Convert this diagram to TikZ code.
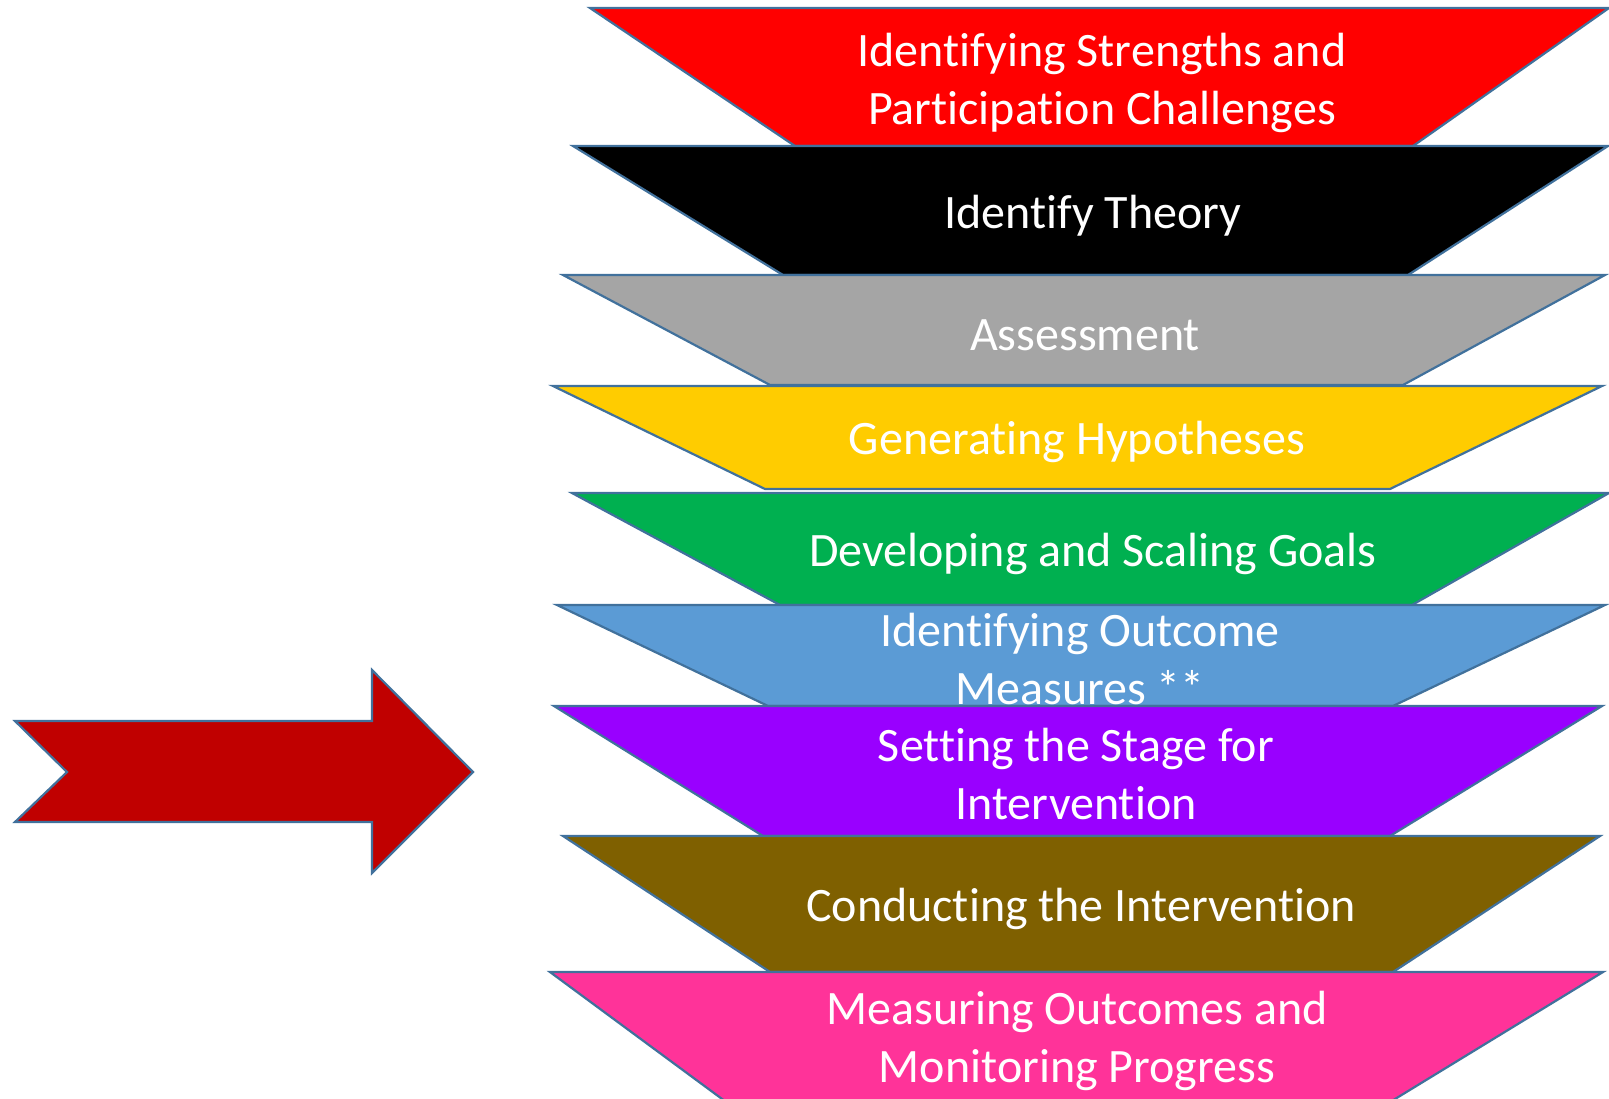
\documentclass[tikz,border=0pt]{standalone}
\usepackage{fontspec}
\setmainfont{Carlito}[RawFeature={-liga;-clig;-dlig;-calt}]
\usepackage{tikz}
\usetikzlibrary{positioning}

\definecolor{edgeblue}{HTML}{41719C}
\definecolor{stepred}{HTML}{FF0000}
\definecolor{stepgray}{HTML}{A5A5A5}
\definecolor{stepyellow}{HTML}{FFCC00}
\definecolor{stepgreen}{HTML}{00B050}
\definecolor{stepblue}{HTML}{5B9BD5}
\definecolor{steppurple}{HTML}{9900FF}
\definecolor{stepbrown}{HTML}{7F6000}
\definecolor{steppink}{HTML}{FF3399}
\definecolor{arrowred}{HTML}{C00000}

\tikzset{
  band/.style={draw=edgeblue,line width=2.2pt,line join=miter},
  label/.style={text=white,align=center,font=\fontsize{48}{58.5}\selectfont},
}

\begin{document}
\begin{tikzpicture}[x=1pt,y=-1pt]
    \useasboundingbox (0,0) rectangle (1609,1098);
    \clip (0,0) rectangle (1609,1098);
    % big arrow on the left
    \draw[band,fill=arrowred] (15,721) -- (372,721) -- (372,670) -- (473,772)
      -- (372,873) -- (372,822) -- (15,822) -- (67,772) -- cycle;
    % the funnel of steps, top to bottom
    \draw[band,fill=stepred] (590,8) -- (1609,8) -- (1413,146) -- (795,146) -- cycle;
    \node[label] (s1) at (1102,83) {Identifying Strengths and\\Participation Challenges};
    \draw[band,fill=black] (573,146) -- (1608,146) -- (1408,275) -- (783,275) -- cycle;
    \node[label] (s2) at (1093,216) {Identify Theory};
    \draw[band,fill=stepgray] (563,275) -- (1605,275) -- (1403,385) -- (770,385) -- cycle;
    \node[label] (s3) at (1085,335) {Assessment};
    \draw[band,fill=stepyellow] (553,386) -- (1602,386) -- (1390,489) -- (765,489) -- cycle;
    \node[label] (s4) at (1077,442) {Generating Hypotheses};
    \draw[band,fill=stepgreen] (572,493) -- (1609,493) -- (1412,605) -- (780,605) -- cycle;
    \node[label] (s5) at (1093,554) {Developing and Scaling Goals};
    \draw[band,fill=stepblue] (557,605) -- (1605,605) -- (1393,706) -- (768,706) -- cycle;
    \node[label] (s6) at (1080,659) {Identifying Outcome\\Measures **};
    \draw[band,fill=steppurple] (554,706) -- (1602,706) -- (1390,836) -- (763,836) -- cycle;
    \node[label] (s7) at (1076,774) {Setting the Stage for\\Intervention};
    \draw[band,fill=stepbrown] (563,836) -- (1600,836) -- (1393,972) -- (770,972) -- cycle;
    \node[label] (s8) at (1081,909) {Conducting the Intervention};
    \draw[band,fill=steppink] (550,972) -- (1603,972) -- (1377,1110) -- (737,1110) -- cycle;
    \node[label] (s9) at (1077,1041) {Measuring Outcomes and\\Monitoring Progress};
\end{tikzpicture}
\end{document}
